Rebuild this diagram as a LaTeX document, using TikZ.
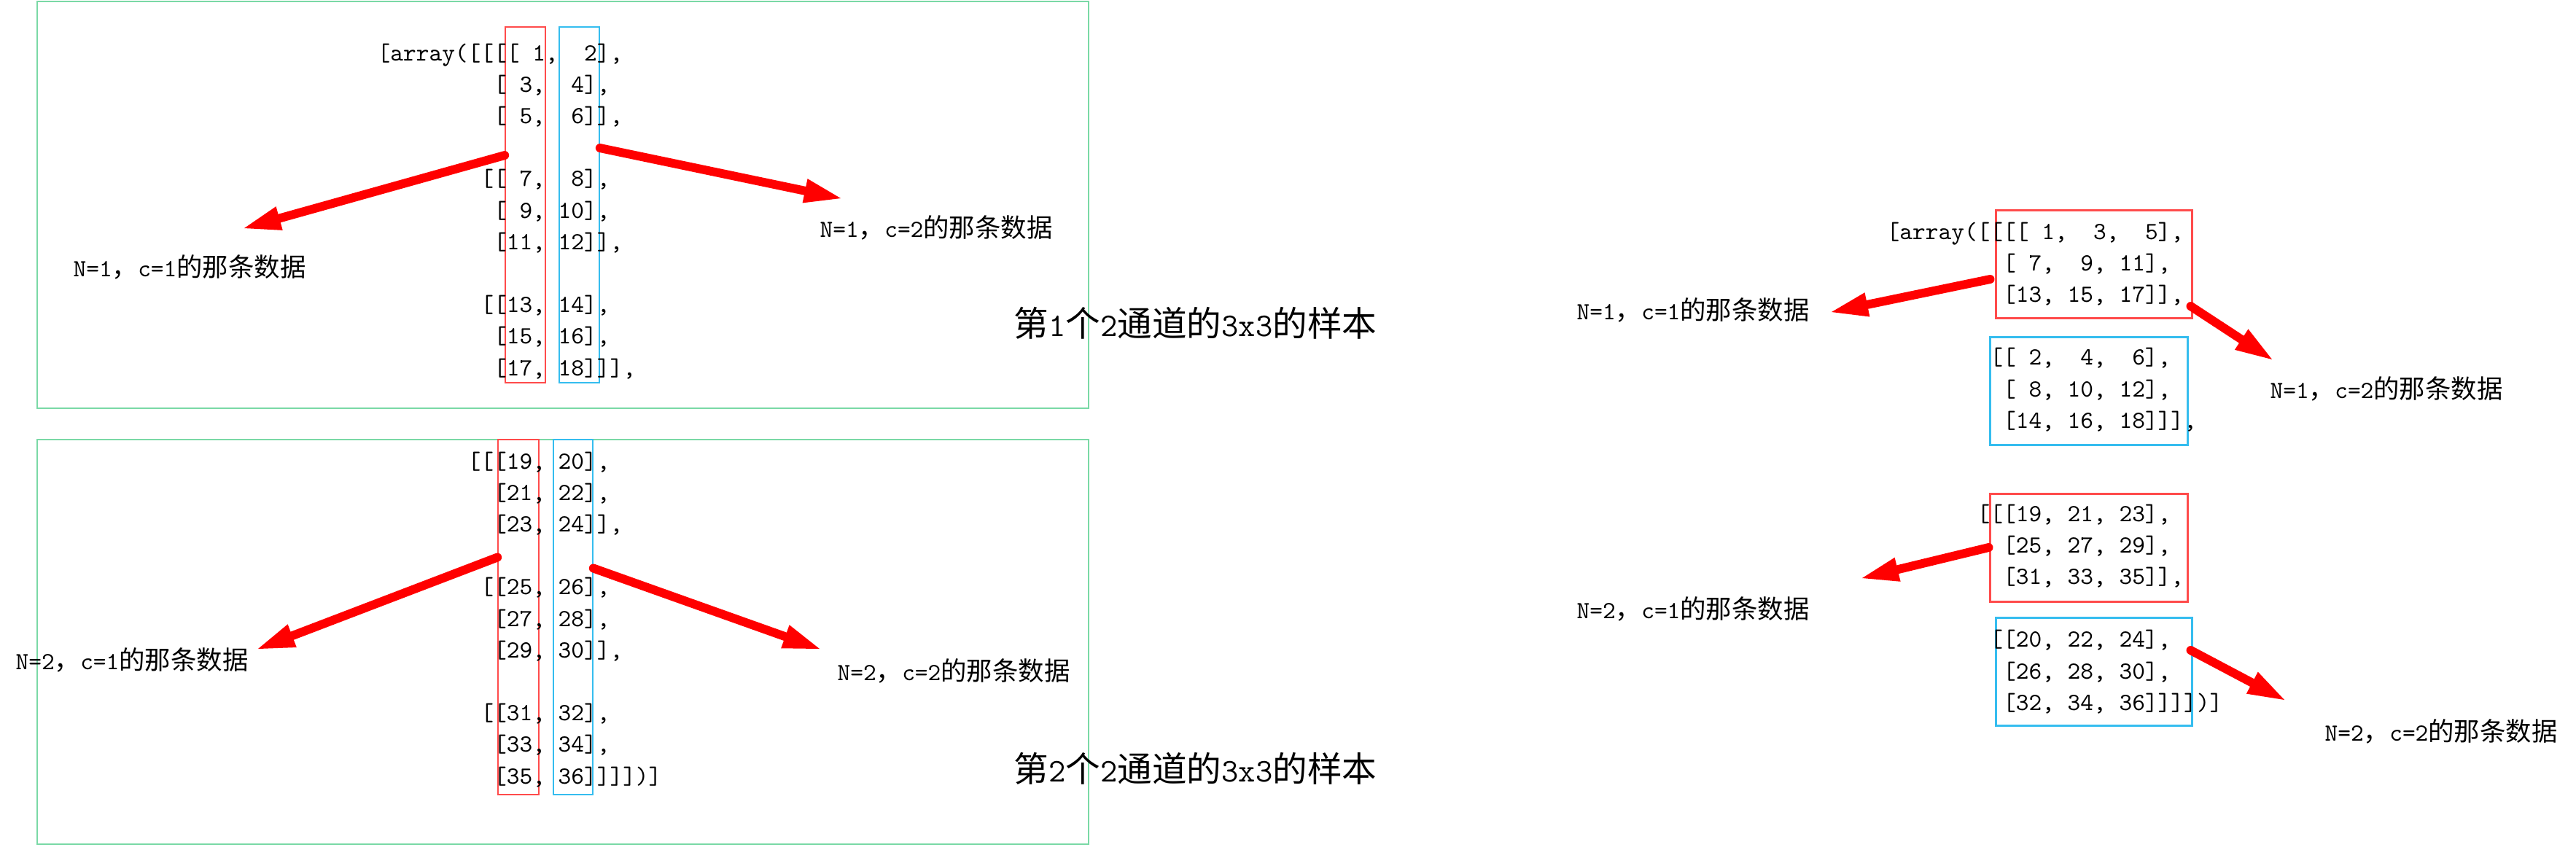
\documentclass[tikz,border=0pt]{standalone}
\usepackage{fontspec}
\usepackage{tikz}
\usetikzlibrary{arrows.meta}
\newfontfamily\cjk[Scale=1.05]{Noto Sans CJK SC}
\definecolor{framegreen}{HTML}{7AD9A6}
\definecolor{boxred}{HTML}{FF4B4B}
\definecolor{boxblue}{HTML}{35BDEF}
\definecolor{arrowred}{HTML}{FF0000}
\newcommand\ind[1]{\hspace*{#1\dimexpr0.525em\relax}}

\begin{document}
\begin{tikzpicture}[x=1cm,y=1cm]
  \tikzstyle{frame}=[draw=framegreen, line width=0.6pt]
  \tikzstyle{code}=[font=\fontsize{9.6}{12}\selectfont\ttfamily, anchor=base west, inner sep=0pt]
  \tikzstyle{lbl}=[font=\fontsize{9.6}{12}\selectfont\ttfamily, anchor=west, inner sep=0pt]
  \tikzstyle{ttl}=[font=\fontsize{12.9}{15}\selectfont\ttfamily, anchor=west, inner sep=0pt]
  \tikzstyle{colred}=[draw=boxred, line width=0.45pt, inner sep=0pt]
  \tikzstyle{colblue}=[draw=boxblue, line width=0.45pt, inner sep=0pt]
  \tikzstyle{pick}=[draw=arrowred, line width=3.4pt, line cap=round, -{Triangle[length=0.5cm,width=0.34cm,line width=0pt]}]

  \path[use as bounding box] (0,0) rectangle (35.33,-11.65);

  \draw[frame] (0.51,-0.02) rectangle (14.93,-5.60);
  \draw[frame] (0.51,-6.03) rectangle (14.93,-11.58);

  \node[colred, minimum width=0.55cm, minimum height=4.88cm] (tlred) at (7.205,-2.81) {};
  \node[colblue, minimum width=0.55cm, minimum height=4.88cm] (tlblue) at (7.945,-2.81) {};
  \node[colred, minimum width=0.56cm, minimum height=4.87cm] (blred) at (7.11,-8.465) {};
  \node[colblue, minimum width=0.54cm, minimum height=4.87cm] (blblue) at (7.86,-8.465) {};
  \node[colred, line width=0.85pt, minimum width=2.69cm, minimum height=1.48cm] (trred) at (28.715,-3.62) {};
  \node[colblue, line width=0.85pt, minimum width=2.71cm, minimum height=1.48cm] (trblue) at (28.645,-5.36) {};
  \node[colred, line width=0.85pt, minimum width=2.71cm, minimum height=1.48cm] (brred) at (28.645,-7.51) {};
  \node[colblue, line width=0.85pt, minimum width=2.69cm, minimum height=1.48cm] (brblue) at (28.715,-9.21) {};

  \foreach \row/\txt in {0/{[array([[[[~1,~~2],}, 1/{\ind9[~3,~~4],}, 2/{\ind9[~5,~~6]],},
                         4/{\ind8[[~7,~~8],}, 5/{\ind9[~9,~10],}, 6/{\ind9[11,~12]],},
                         8/{\ind8[[13,~14],}, 9/{\ind9[15,~16],}, 10/{\ind9[17,~18]]],}}
    \node[code] (tl\row) at (5.17,{-0.83-0.432*\row}) {\txt};

  \foreach \row/\txt in {0/{\ind7[[[19,~20],}, 1/{\ind9[21,~22],}, 2/{\ind9[23,~24]],},
                         4/{\ind8[[25,~26],}, 5/{\ind9[27,~28],}, 6/{\ind9[29,~30]],},
                         8/{\ind8[[31,~32],}, 9/{\ind9[33,~34],}, 10/{\ind9[35,~36]]]])]}}
    \node[code] (bl\row) at (5.17,{-6.43-0.432*\row}) {\txt};

  \foreach \row/\txt in {0/{[array([[[[~1,~~3,~~5],}, 1/{\ind9[~7,~~9,~11],}, 2/{\ind9[13,~15,~17]],},
                         4/{\ind8[[~2,~~4,~~6],}, 5/{\ind9[~8,~10,~12],}, 6/{\ind9[14,~16,~18]]],}}
    \node[code] (tr\row) at (25.87,{-3.28-0.432*\row}) {\txt};

  \foreach \row/\txt in {0/{\ind7[[[19,~21,~23],}, 1/{\ind9[25,~27,~29],}, 2/{\ind9[31,~33,~35]],},
                         4/{\ind8[[20,~22,~24],}, 5/{\ind9[26,~28,~30],}, 6/{\ind9[32,~34,~36]]]])]}}
    \node[code] (br\row) at (25.87,{-7.15-0.432*\row}) {\txt};

  \node[lbl] (tln1) at (1.00,-3.66) {N=1{\cjk ，}c=1{\cjk 的那条数据}};
  \node[lbl] (tln2) at (11.24,-3.12) {N=1{\cjk ，}c=2{\cjk 的那条数据}};
  \node[lbl] (bln1) at (0.21,-9.05) {N=2{\cjk ，}c=1{\cjk 的那条数据}};
  \node[lbl] (bln2) at (11.48,-9.20) {N=2{\cjk ，}c=2{\cjk 的那条数据}};
  \node[lbl] (trn1) at (21.62,-4.25) {N=1{\cjk ，}c=1{\cjk 的那条数据}};
  \node[lbl] (trn2) at (31.13,-5.33) {N=1{\cjk ，}c=2{\cjk 的那条数据}};
  \node[lbl] (brn1) at (21.62,-8.35) {N=2{\cjk ，}c=1{\cjk 的那条数据}};
  \node[lbl] (brn2) at (31.88,-10.03) {N=2{\cjk ，}c=2{\cjk 的那条数据}};

  \node[ttl] (ttl1) at (13.90,-4.43) {{\cjk 第}1{\cjk 个}2{\cjk 通道的}3x3{\cjk 的样本}};
  \node[ttl] (ttl2) at (13.90,-10.54) {{\cjk 第}2{\cjk 个}2{\cjk 通道的}3x3{\cjk 的样本}};

  \coordinate (tlc1) at (3.35,-3.13);
  \coordinate (tlc2) at (11.53,-2.72);
  \coordinate (blc1) at (3.54,-8.90);
  \coordinate (blc2) at (11.24,-8.90);
  \coordinate (trc1) at (25.12,-4.28);
  \coordinate (trc2) at (31.16,-4.93);
  \coordinate (brc1) at (25.54,-7.93);
  \coordinate (brc2) at (31.33,-9.60);

  \draw[pick] ([yshift=0.68cm]tlred.west) -- (tlc1);
  \draw[pick] ([yshift=0.78cm]tlblue.east) -- (tlc2);
  \draw[pick] ([yshift=0.82cm]blred.west) -- (blc1);
  \draw[pick] ([yshift=0.67cm]blblue.east) -- (blc2);
  \draw[pick] ([xshift=-0.06cm,yshift=-0.21cm]trred.west) -- (trc1);
  \draw[pick] ([xshift=-0.03cm,yshift=-0.58cm]trred.east) -- (trc2);
  \draw[pick] (brred.west) -- (brc1);
  \draw[pick] ([xshift=-0.03cm,yshift=0.29cm]brblue.east) -- (brc2);
\end{tikzpicture}
\end{document}
